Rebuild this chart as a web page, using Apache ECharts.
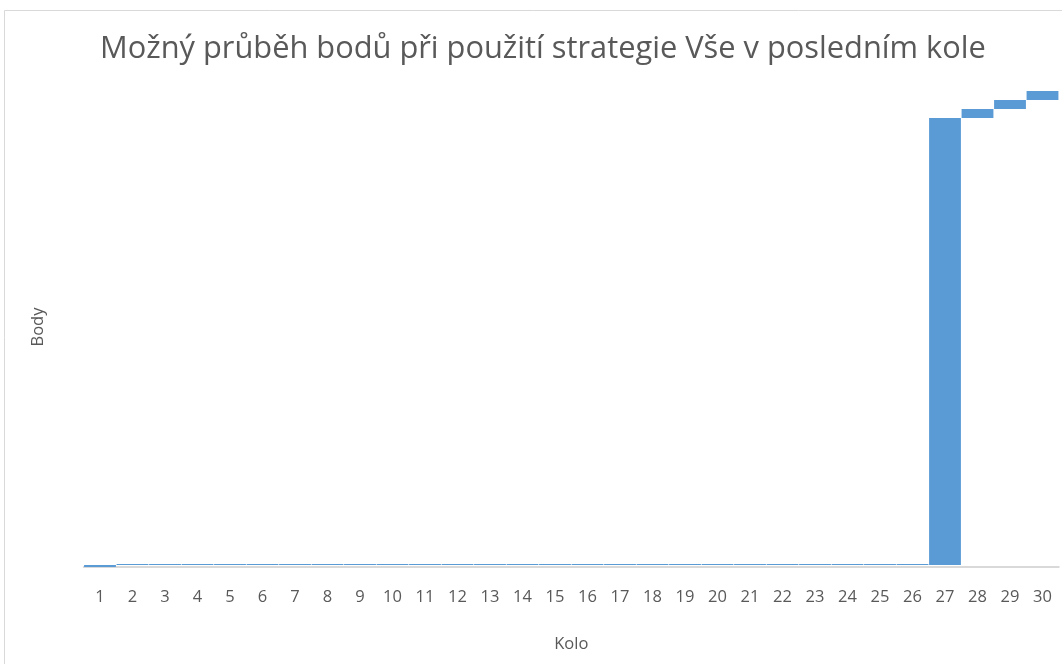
<!DOCTYPE html>
<html>
<head>
<meta charset="utf-8">
<script src="https://cdn.jsdelivr.net/npm/echarts@6/dist/echarts.min.js"></script>
<style>html,body{margin:0;padding:0;background:#fff;}#c{width:1062px;height:664px;}</style>
</head>
<body>
<div id="c"></div>
<script>
const rounds = Array.from({length: 30}, (_, i) => String(i + 1));
// points gained in each round (waterfall increments)
const gains = [2, 0,0,0,0,0,0,0,0,0,0,0,0,0,0,0,0,0,0,0,0,0,0,0,0,0, 447, 9, 9, 9];

const base = [];
let run = 0;
for (let i = 0; i < gains.length; i++) { base.push(run); run += gains[i]; }

const chart = echarts.init(document.getElementById('c'));
const font = 'Open Sans';
chart.setOption({
  animation: false,
  backgroundColor: '#fff',
  title: {
    text: 'Možný průběh bodů při použití strategie Vše v posledním kole',
    left: 95, top: 29,
    textStyle: { fontFamily: font, fontSize: 30.8, fontWeight: 'normal', color: '#595959' }
  },
  graphic: [{ type: 'rect', shape: { x: 4.5, y: 10.5, width: 1200, height: 800 }, style: { fill: 'none', stroke: '#d9d9d9', lineWidth: 1 }, silent: true }],
  grid: { left: 83.75, right: 3.25, top: 87, bottom: 97 },
  xAxis: {
    type: 'category', data: rounds,
    name: 'Kolo', nameLocation: 'middle', nameGap: 69,
    nameTextStyle: { fontFamily: font, fontSize: 16.5, color: '#595959' },
    axisLine: { lineStyle: { color: '#d9d9d9', width: 2 } },
    axisTick: { show: false },
    axisLabel: { interval: 0, margin: 22, fontFamily: font, fontSize: 16.5, color: '#595959' }
  },
  yAxis: {
    type: 'value', min: 0, max: 480,
    name: 'Body', nameLocation: 'middle', nameGap: 37, nameRotate: 90,
    nameTextStyle: { fontFamily: font, fontSize: 16.5, color: '#595959' },
    axisLine: { show: false }, axisTick: { show: false }, axisLabel: { show: false }, splitLine: { show: false }
  },
  series: [
    { type: 'bar', stack: 'w', data: base, itemStyle: { color: 'transparent' }, barCategoryGap: '2%', silent: true },
    { type: 'bar', stack: 'w', data: gains, barMinHeight: 1, itemStyle: { color: '#5B9BD5' }, barCategoryGap: '2%' }
  ]
});
</script>
</body>
</html>
